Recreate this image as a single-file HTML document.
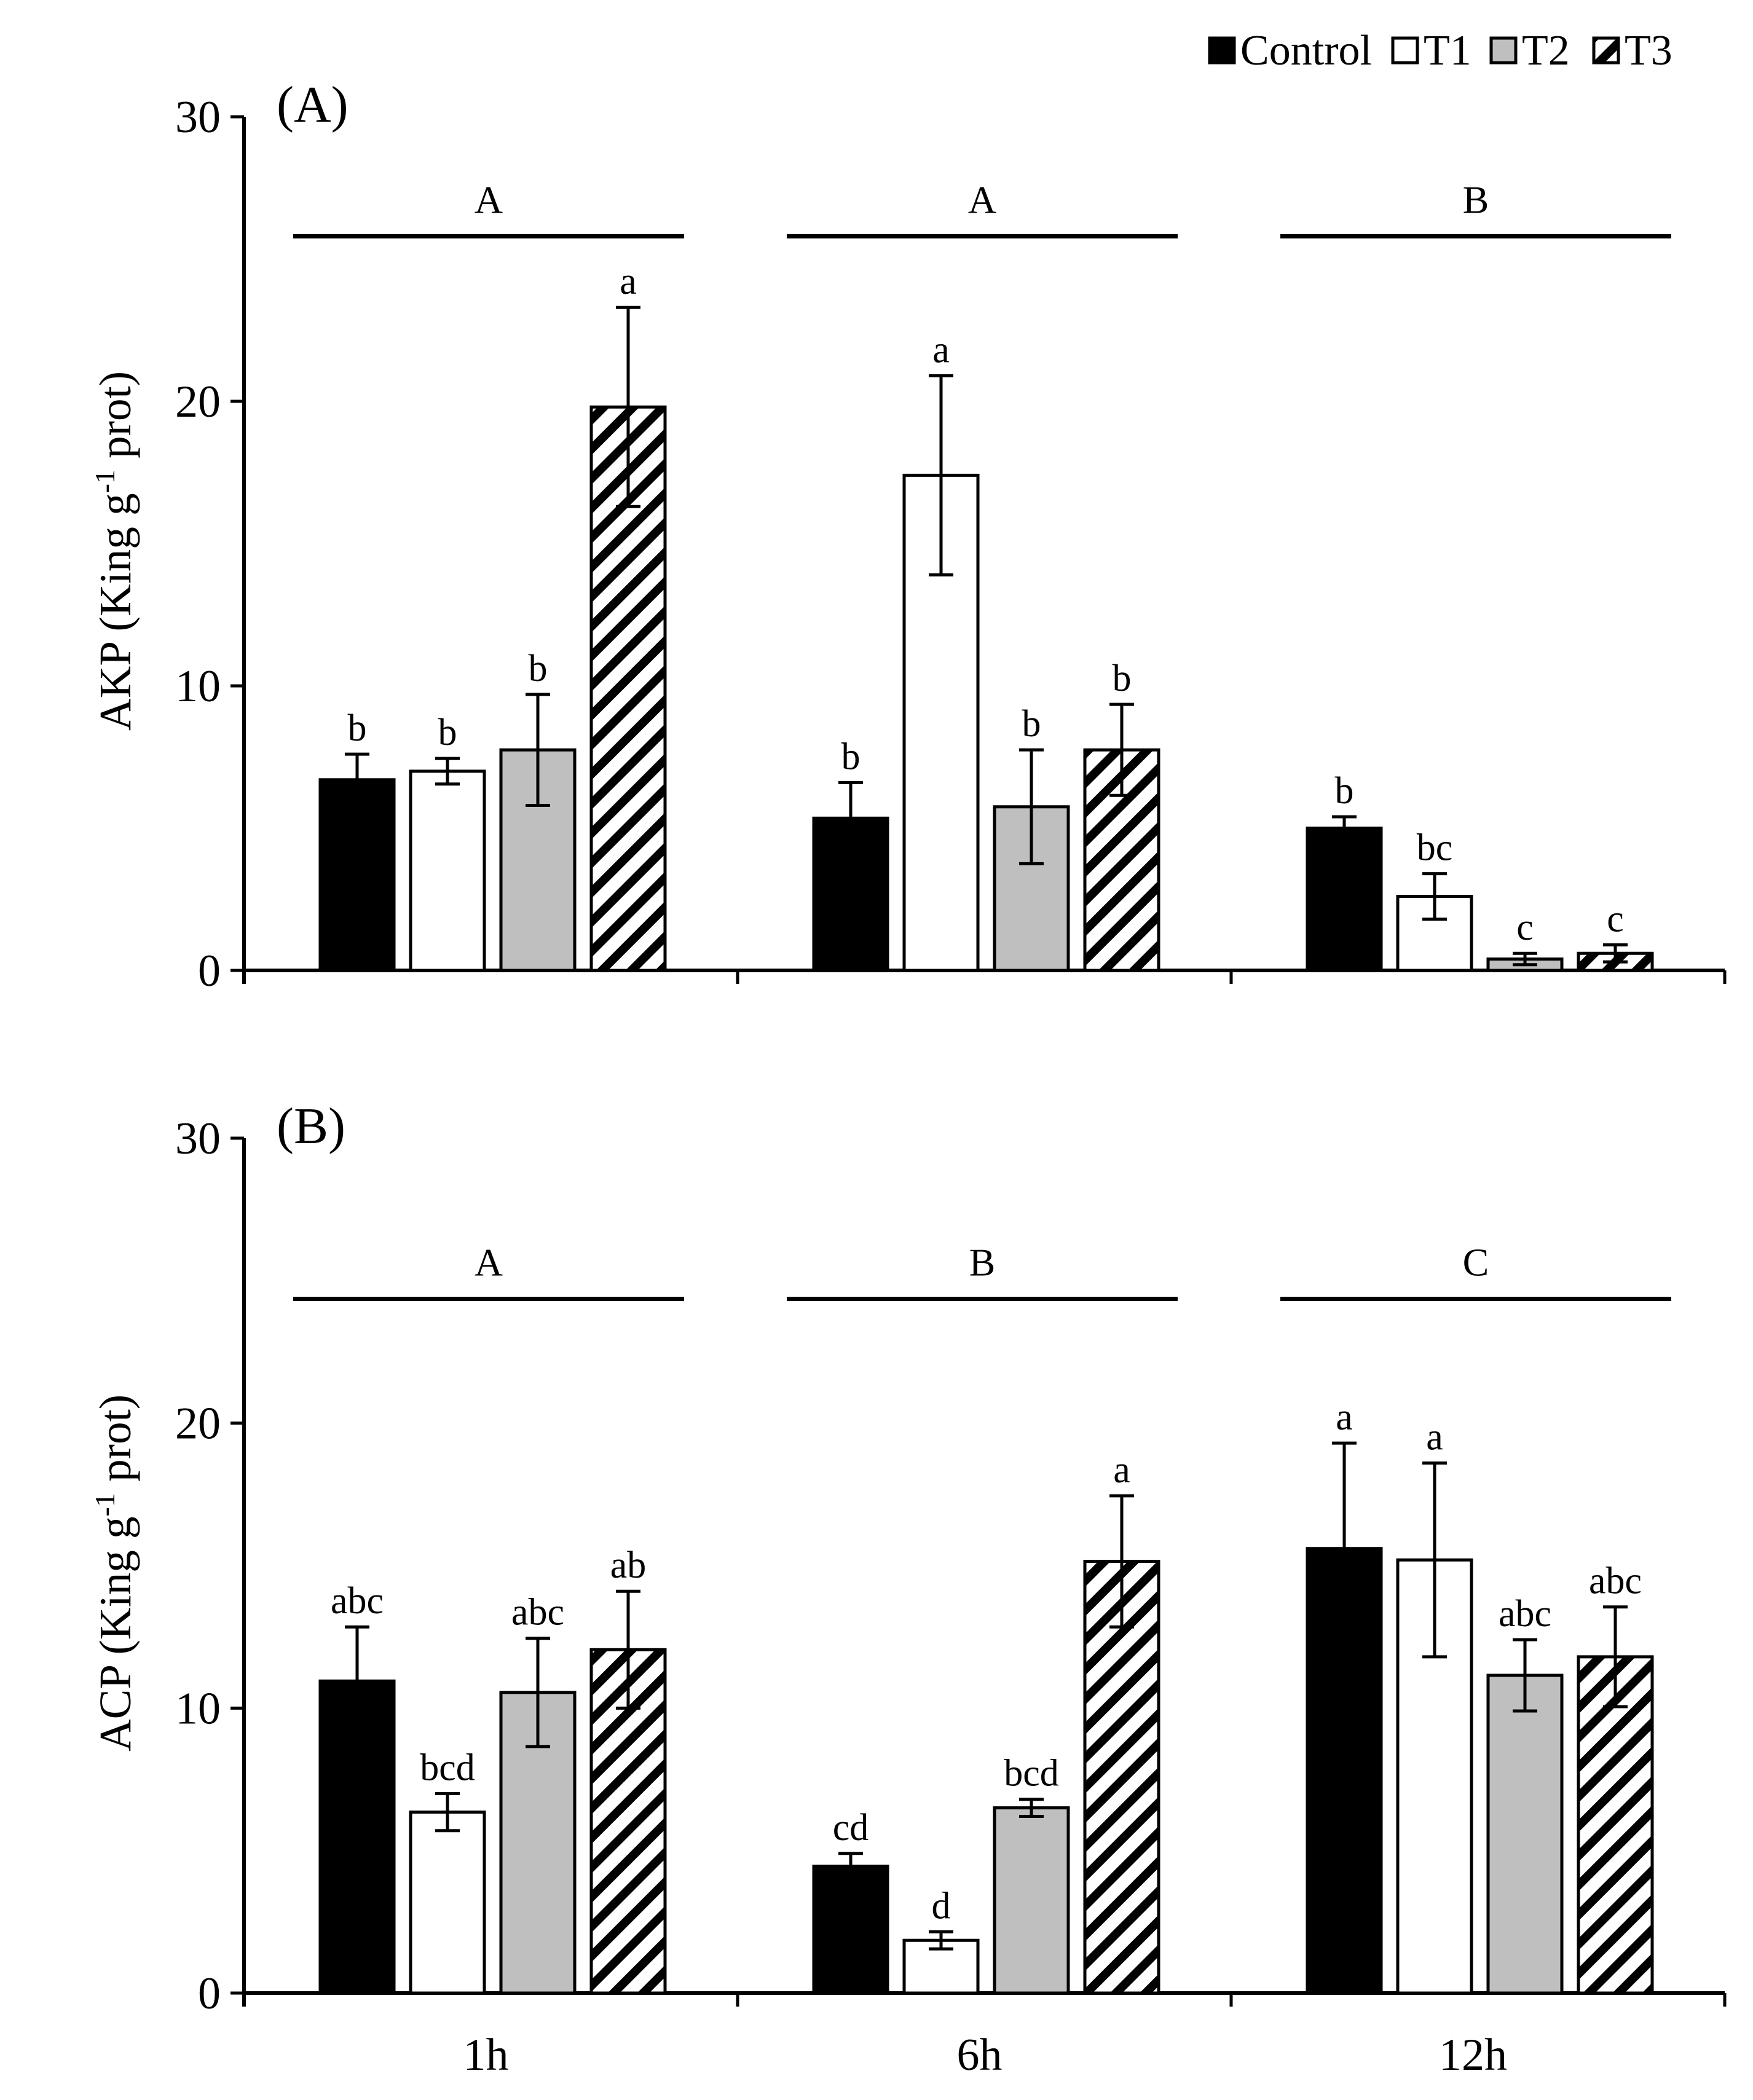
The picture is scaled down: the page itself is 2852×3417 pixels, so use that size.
<!DOCTYPE html>
<html><head><meta charset="utf-8"><style>
html,body{margin:0;padding:0;background:#fff}
svg{display:block;font-family:"Liberation Serif",serif}
</style></head><body>
<svg id="c" width="2852" height="3417" viewBox="0 0 2852 3417">
<defs>
<pattern id="hatch" patternUnits="userSpaceOnUse" width="34" height="34" patternTransform="rotate(45)">
<rect width="34" height="34" fill="#fff"/><rect x="0" y="0" width="14" height="34" fill="#000"/>
</pattern>
</defs>
</svg>
<script>
const groups=["1h","6h","12h"];
const series=["Control","T1","T2","T3"];
const akpVals=[[6.7,7.0,7.75,19.8],[5.35,17.4,5.75,7.75],[5.0,2.6,0.4,0.6]];
const akpErr=[[0.9,0.45,1.95,3.5],[1.25,3.5,2.0,1.6],[0.4,0.8,0.2,0.3]];
const akpLetters=[["b","b","b","a"],["b","a","b","b"],["b","bc","c","c"]];
const akpGroupLetters=["A","A","B"];
const acpVals=[[10.95,6.35,10.55,12.05],[4.45,1.85,6.5,15.15],[15.6,15.2,11.15,11.8]];
const acpErr=[[1.9,0.65,1.9,2.05],[0.45,0.3,0.3,2.3],[3.7,3.4,1.25,1.75]];
const acpLetters=[["abc","bcd","abc","ab"],["cd","d","bcd","a"],["a","a","abc","abc"]];
const acpGroupLetters=["A","B","C"];
const yTicks=[0,10,20,30];

const svg=document.getElementById('c');
const NS='http://www.w3.org/2000/svg';
function mk(tag,attrs,parent){const e=document.createElementNS(NS,tag);for(const k in attrs)e.setAttribute(k,attrs[k]);(parent||svg).appendChild(e);return e;}
const fills=["#000","#fff","#bfbfbf","url(#hatch)"];
const X0=397,GW=803,XEND=X0+3*GW,BW=120,STEP=147,OFF=124;

function panel(name,y0,y30,vals,errs,letters,gl,title,label,lineFrac){
  const g=mk('g',{});
  
  
  const ys=v=>y0-(v/30)*(y0-y30);
  const ya=mk('line',{x1:X0,y1:y30,x2:X0,y2:y0+22,stroke:'#000','stroke-width':6},g);
  
  const xa=mk('line',{x1:X0,y1:y0,x2:XEND,y2:y0,stroke:'#000','stroke-width':6},g);
  
  for(let i=1;i<=3;i++){const t=mk('line',{x1:X0+GW*i,y1:y0,x2:X0+GW*i,y2:y0+22,stroke:'#000','stroke-width':5},g);
    }
  yTicks.forEach(v=>{
    const t=mk('line',{x1:X0-22,y1:ys(v),x2:X0,y2:ys(v),stroke:'#000','stroke-width':5},g);
    
    const l=mk('text',{x:X0-38,y:ys(v)+25,'text-anchor':'end','font-size':74},g);l.textContent=v;
    
  });
  const tt=mk('text',{x:0,y:0,'text-anchor':'middle','font-size':73,transform:`translate(212,${(y0+y30)/2+12}) rotate(-90)`},g);
  tt.innerHTML=title+' (King g<tspan dy="-26" font-size="46">-1</tspan><tspan dy="26"> prot)</tspan>';
  
  const pl=mk('text',{x:450,y:y30+8,'font-size':84},g);pl.textContent=label;
  
  vals.forEach((gv,gi)=>{
    const lx1=X0+GW*gi+80,lx2=lx1+636,ly=y30+(y0-y30)*lineFrac;
    const sl=mk('line',{x1:lx1,y1:ly,x2:lx2,y2:ly,stroke:'#000','stroke-width':7},g);
    
    const st=mk('text',{x:(lx1+lx2)/2,y:ly-38,'text-anchor':'middle','font-size':64},g);st.textContent=gl[gi];
    
    gv.forEach((v,si)=>{
      const x=X0+GW*gi+OFF+STEP*si,yt=ys(v);
      const r=mk('rect',{x:x,y:yt,width:BW,height:y0-yt,fill:fills[si],stroke:'#000','stroke-width':5},g);
      
      const cx=x+BW/2,e=errs[gi][si],ya1=ys(v+e),ya2=ys(v-e);
      const eb=mk('path',{d:`M${cx},${ya1}V${ya2}M${cx-20},${ya1}H${cx+20}M${cx-20},${ya2}H${cx+20}`,stroke:'#000','stroke-width':5,fill:'none'},g);
      
      const lt=mk('text',{x:cx,y:ya1-22,'text-anchor':'middle','font-size':62},g);lt.textContent=letters[gi][si];
      
    });
  });
  return ys;
}
panel('panel-akp',1579,190,akpVals,akpErr,akpLetters,akpGroupLetters,'AKP','(A)',0.14);
panel('panel-acp',3243,1852,acpVals,acpErr,acpLetters,acpGroupLetters,'ACP','(B)',0.188);
groups.forEach((gname,gi)=>{
  const t=mk('text',{x:X0+GW*gi+GW/2-8,y:3368,'text-anchor':'middle','font-size':74});t.textContent=gname;
  
});
const legX=[1968,2266,2426,2593];
series.forEach((s,i)=>{
  const b=mk('rect',{x:legX[i],y:62,width:40,height:40,fill:fills[i],stroke:'#000','stroke-width':5});
  
  const t=mk('text',{x:legX[i]+50,y:105,'font-size':70});t.textContent=s;
  
});
</script>
</body></html>
